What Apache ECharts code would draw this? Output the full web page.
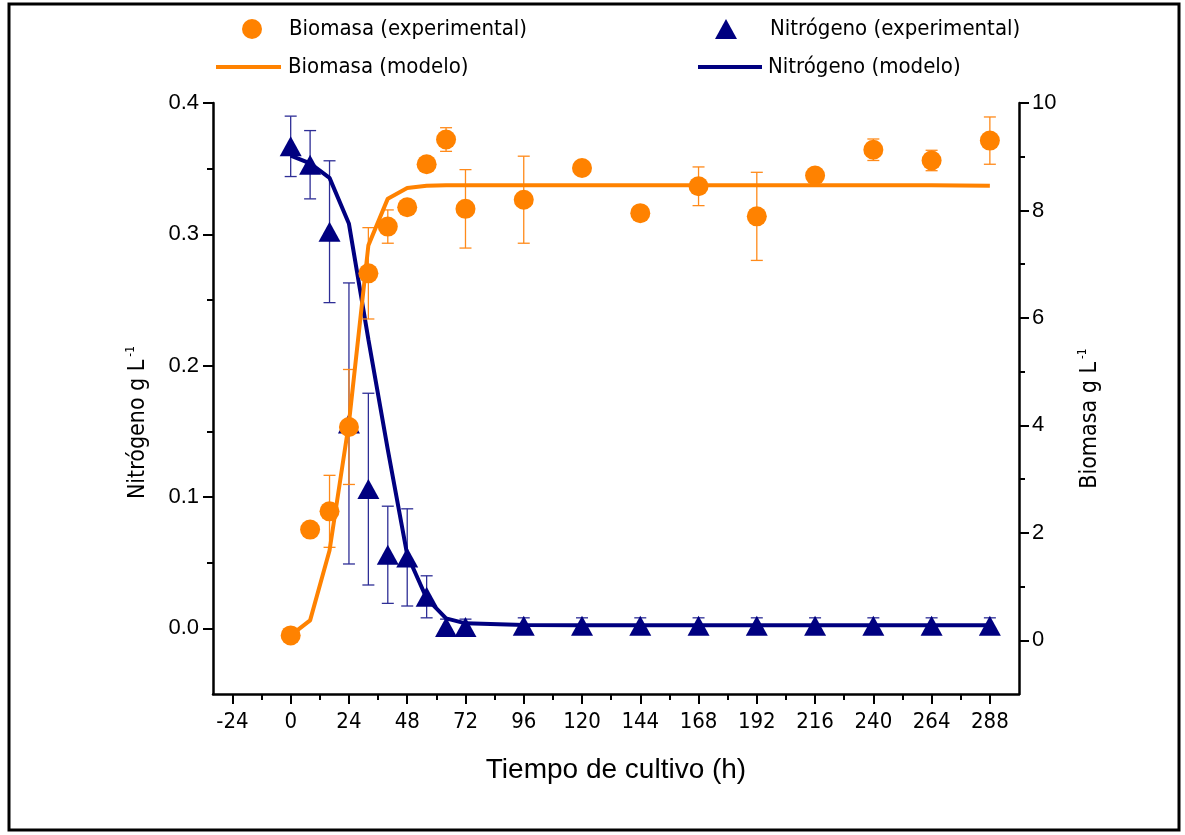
<!DOCTYPE html>
<html>
<head>
<meta charset="utf-8">
<script src="https://cdn.jsdelivr.net/npm/echarts@6/dist/echarts.min.js"></script>
<style>
html,body{margin:0;padding:0;background:#ffffff;}
#chart{width:1185px;height:835px;}
</style>
</head>
<body>
<div id="chart"></div>
<script>
// ---- data ----
const tiempoExp = [0, 8, 16, 24, 32, 40, 48, 56, 64, 72, 96, 120, 144, 168, 192, 216, 240, 264, 288];
const biomasaExp = [0.09, 2.06, 2.40, 3.97, 6.83, 7.70, 8.06, 8.86, 9.32, 8.03, 8.20, 8.79, 7.95, 8.45, 7.89, 8.65, 9.13, 8.93, 9.30];
const biomasaErr = [0, 0, 0.67, 1.07, 0.85, 0.31, 0, 0, 0.22, 0.73, 0.81, 0, 0, 0.36, 0.82, 0, 0.20, 0.19, 0.44];
const nitrogenoExp = [0.367, 0.353, 0.302, 0.156, 0.106, 0.056, 0.054, 0.024, 0.001, 0.001, 0.002, 0.002, 0.002, 0.002, 0.002, 0.002, 0.002, 0.002, 0.002];
const nitrogenoErr = [0.023, 0.026, 0.054, 0.107, 0.073, 0.037, 0.037, 0.016, 0.006, 0.006, 0.006, 0.006, 0.006, 0.006, 0.006, 0.006, 0.006, 0.006, 0.006];

const tiempoMod = [0, 8, 16, 24, 32, 40, 48, 56, 64, 72, 96, 120, 144, 168, 192, 216, 240, 264, 288];
const biomasaMod = [0.09, 0.37, 1.67, 4.05, 7.35, 8.22, 8.42, 8.46, 8.47, 8.47, 8.47, 8.47, 8.47, 8.47, 8.47, 8.47, 8.47, 8.47, 8.46];
const nitrogenoMod = [0.360, 0.354, 0.343, 0.308, 0.220, 0.136, 0.056, 0.0228, 0.0076, 0.0038, 0.0025, 0.0023, 0.0023, 0.0023, 0.0023, 0.0023, 0.0023, 0.0023, 0.0023];

const xMajorTicks = [-24, 0, 24, 48, 72, 96, 120, 144, 168, 192, 216, 240, 264, 288];
const xMinorTicks = [-12, 12, 36, 60, 84, 108, 132, 156, 180, 204, 228, 252, 276];
const nMajorTicks = [0, 0.1, 0.2, 0.3, 0.4];
const nMinorTicks = [0.05, 0.15, 0.25, 0.35];
const bMajorTicks = [0, 2, 4, 6, 8, 10];
const bMinorTicks = [1, 3, 5, 7, 9];

const legendNames = ['Biomasa (experimental)', 'Nitrógeno (experimental)', 'Biomasa (modelo)', 'Nitrógeno (modelo)'];

// ---- styling ----
const ORANGE = '#FF8200';
const NAVY = '#000080';
const NARROW = "'Liberation Sans Narrow', 'Arial Narrow', 'DejaVu Sans Condensed', sans-serif";
const REGULAR = "'Liberation Sans', Arial, sans-serif";

const pairs = (xs, ys) => xs.map((x, i) => [x, ys[i]]);
const errData = (xs, ys, es) => xs.map((x, i) => [x, ys[i] - es[i], ys[i] + es[i]]).filter((d, i) => es[i] > 0);

function errorBarRenderer(color) {
  return function (params, api) {
    const x = api.value(0);
    const lo = api.coord([x, api.value(1)]);
    const hi = api.coord([x, api.value(2)]);
    const half = 6;
    const st = { stroke: color, lineWidth: 1.3 };
    return {
      type: 'group',
      children: [
        { type: 'line', shape: { x1: lo[0], y1: lo[1], x2: hi[0], y2: hi[1] }, style: st },
        { type: 'line', shape: { x1: lo[0] - half, y1: lo[1], x2: lo[0] + half, y2: lo[1] }, style: st },
        { type: 'line', shape: { x1: hi[0] - half, y1: hi[1], x2: hi[0] + half, y2: hi[1] }, style: st }
      ]
    };
  };
}

const axisLineStyle = { color: '#000', width: 2.5 };
const tickStyle = { color: '#000', width: 2 };
const MAJOR = 10, MINOR = 6;
const legendText = (pad) => ({ fontSize: 22, fontFamily: NARROW, color: '#000', padding: [0, 0, 0, pad] });

const chart = echarts.init(document.getElementById('chart'), null, { renderer: 'canvas' });

const option = {
  animation: false,
  backgroundColor: '#ffffff',
  grid: { left: 213, right: 166, top: 103, bottom: 141 },
  graphic: [
    { type: 'rect', silent: true, z: -10, shape: { x: 9, y: 4, width: 1170, height: 826 }, style: { fill: 'none', stroke: '#000', lineWidth: 3 } }
  ],
  legend: [
    { data: [{ name: legendNames[0], icon: 'circle' }], left: 242, top: 18, padding: 0, itemWidth: 20, itemHeight: 20,
      textStyle: legendText(22), selectedMode: false },
    { data: [{ name: legendNames[1], icon: 'triangle' }], left: 715, top: 18, padding: 0, itemWidth: 22, itemHeight: 20,
      textStyle: legendText(28), selectedMode: false },
    { data: [{ name: legendNames[2], icon: 'rect' }], left: 216, top: 56, padding: 0, itemWidth: 65, itemHeight: 4,
      textStyle: legendText(2), selectedMode: false },
    { data: [{ name: legendNames[3], icon: 'rect' }], left: 698, top: 56, padding: 0, itemWidth: 64, itemHeight: 4,
      textStyle: legendText(1), selectedMode: false }
  ],
  xAxis: [
    {
      type: 'value', min: -32, max: 300, position: 'bottom',
      axisLine: { onZero: false, lineStyle: axisLineStyle },
      axisTick: { customValues: xMajorTicks, length: MAJOR, lineStyle: tickStyle },
      axisLabel: { customValues: xMajorTicks, fontSize: 22, fontFamily: NARROW, color: '#000', margin: 17 },
      splitLine: { show: false },
      name: 'Tiempo de cultivo (h)', nameLocation: 'middle', nameGap: 62,
      nameTextStyle: { fontSize: 28, fontFamily: REGULAR, color: '#000' }
    },
    {
      type: 'value', min: -32, max: 300, position: 'bottom',
      axisLine: { show: false, onZero: false },
      axisTick: { customValues: xMinorTicks, length: MINOR, lineStyle: tickStyle },
      axisLabel: { show: false },
      splitLine: { show: false }
    }
  ],
  yAxis: [
    {
      type: 'value', min: -0.05, max: 0.4, position: 'left',
      axisLine: { show: true, onZero: false, lineStyle: axisLineStyle },
      axisTick: { show: true, customValues: nMajorTicks, length: MAJOR, lineStyle: tickStyle },
      axisLabel: { customValues: nMajorTicks, fontSize: 22, fontFamily: REGULAR, color: '#000', margin: 14,
        formatter: v => v.toFixed(1) },
      splitLine: { show: false },
      name: '{a|Nitrógeno g L}{b|-1}', nameLocation: 'middle', nameGap: 62,
      nameTextStyle: { color: '#000', padding: [0, 48, 0, 0], rich: {
        a: { fontSize: 23, fontFamily: NARROW, color: '#000', lineHeight: 26 },
        b: { fontSize: 12, fontFamily: NARROW, color: '#000', verticalAlign: 'top', padding: [0, 0, 0, 3] } } }
    },
    {
      type: 'value', min: -0.05, max: 0.4, position: 'left',
      axisLine: { show: false, onZero: false },
      axisTick: { show: true, customValues: nMinorTicks, length: MINOR, lineStyle: tickStyle },
      axisLabel: { show: false }, splitLine: { show: false }
    },
    {
      type: 'value', min: -1, max: 10, position: 'right',
      axisLine: { show: true, onZero: false, lineStyle: axisLineStyle },
      axisTick: { show: true, customValues: bMajorTicks, length: MAJOR, lineStyle: tickStyle },
      axisLabel: { customValues: bMajorTicks, fontSize: 22, fontFamily: REGULAR, color: '#000', margin: 13 },
      splitLine: { show: false },
      name: '{a|Biomasa g L}{b|-1}', nameLocation: 'middle', nameGap: 58,
      nameTextStyle: { color: '#000', padding: [0, 40, 0, 0], rich: {
        a: { fontSize: 23, fontFamily: NARROW, color: '#000', lineHeight: 26 },
        b: { fontSize: 12, fontFamily: NARROW, color: '#000', verticalAlign: 'top', padding: [0, 0, 0, 3] } } }
    },
    {
      type: 'value', min: -1, max: 10, position: 'right',
      axisLine: { show: false, onZero: false },
      axisTick: { show: true, customValues: bMinorTicks, length: MINOR, lineStyle: tickStyle },
      axisLabel: { show: false }, splitLine: { show: false }
    }
  ],
  series: [
    {
      name: 'errN', type: 'custom', xAxisIndex: 0, yAxisIndex: 0, z: 2,
      renderItem: errorBarRenderer('#2E2E96'), encode: { x: 0, y: [1, 2] },
      data: errData(tiempoExp, nitrogenoExp, nitrogenoErr), silent: true
    },
    {
      name: legendNames[3], type: 'line', xAxisIndex: 0, yAxisIndex: 0, z: 3,
      data: pairs(tiempoMod, nitrogenoMod), showSymbol: false, symbol: 'none',
      color: NAVY, lineStyle: { color: NAVY, width: 4 }
    },
    {
      name: legendNames[1], type: 'scatter', xAxisIndex: 0, yAxisIndex: 0, z: 4,
      data: pairs(tiempoExp, nitrogenoExp), symbol: 'triangle', symbolSize: [22, 20],
      color: NAVY, itemStyle: { color: NAVY, opacity: 1 }
    },
    {
      name: 'errB', type: 'custom', xAxisIndex: 0, yAxisIndex: 2, z: 5,
      renderItem: errorBarRenderer('#FF8A1A'), encode: { x: 0, y: [1, 2] },
      data: errData(tiempoExp, biomasaExp, biomasaErr), silent: true
    },
    {
      name: legendNames[2], type: 'line', xAxisIndex: 0, yAxisIndex: 2, z: 6,
      data: pairs(tiempoMod, biomasaMod), showSymbol: false, symbol: 'none',
      color: ORANGE, lineStyle: { color: ORANGE, width: 4 }
    },
    {
      name: legendNames[0], type: 'scatter', xAxisIndex: 0, yAxisIndex: 2, z: 7,
      data: pairs(tiempoExp, biomasaExp), symbol: 'circle', symbolSize: 20,
      color: ORANGE, itemStyle: { color: ORANGE, opacity: 1 }
    }
  ]
};
chart.setOption(option);
</script>
</body>
</html>
